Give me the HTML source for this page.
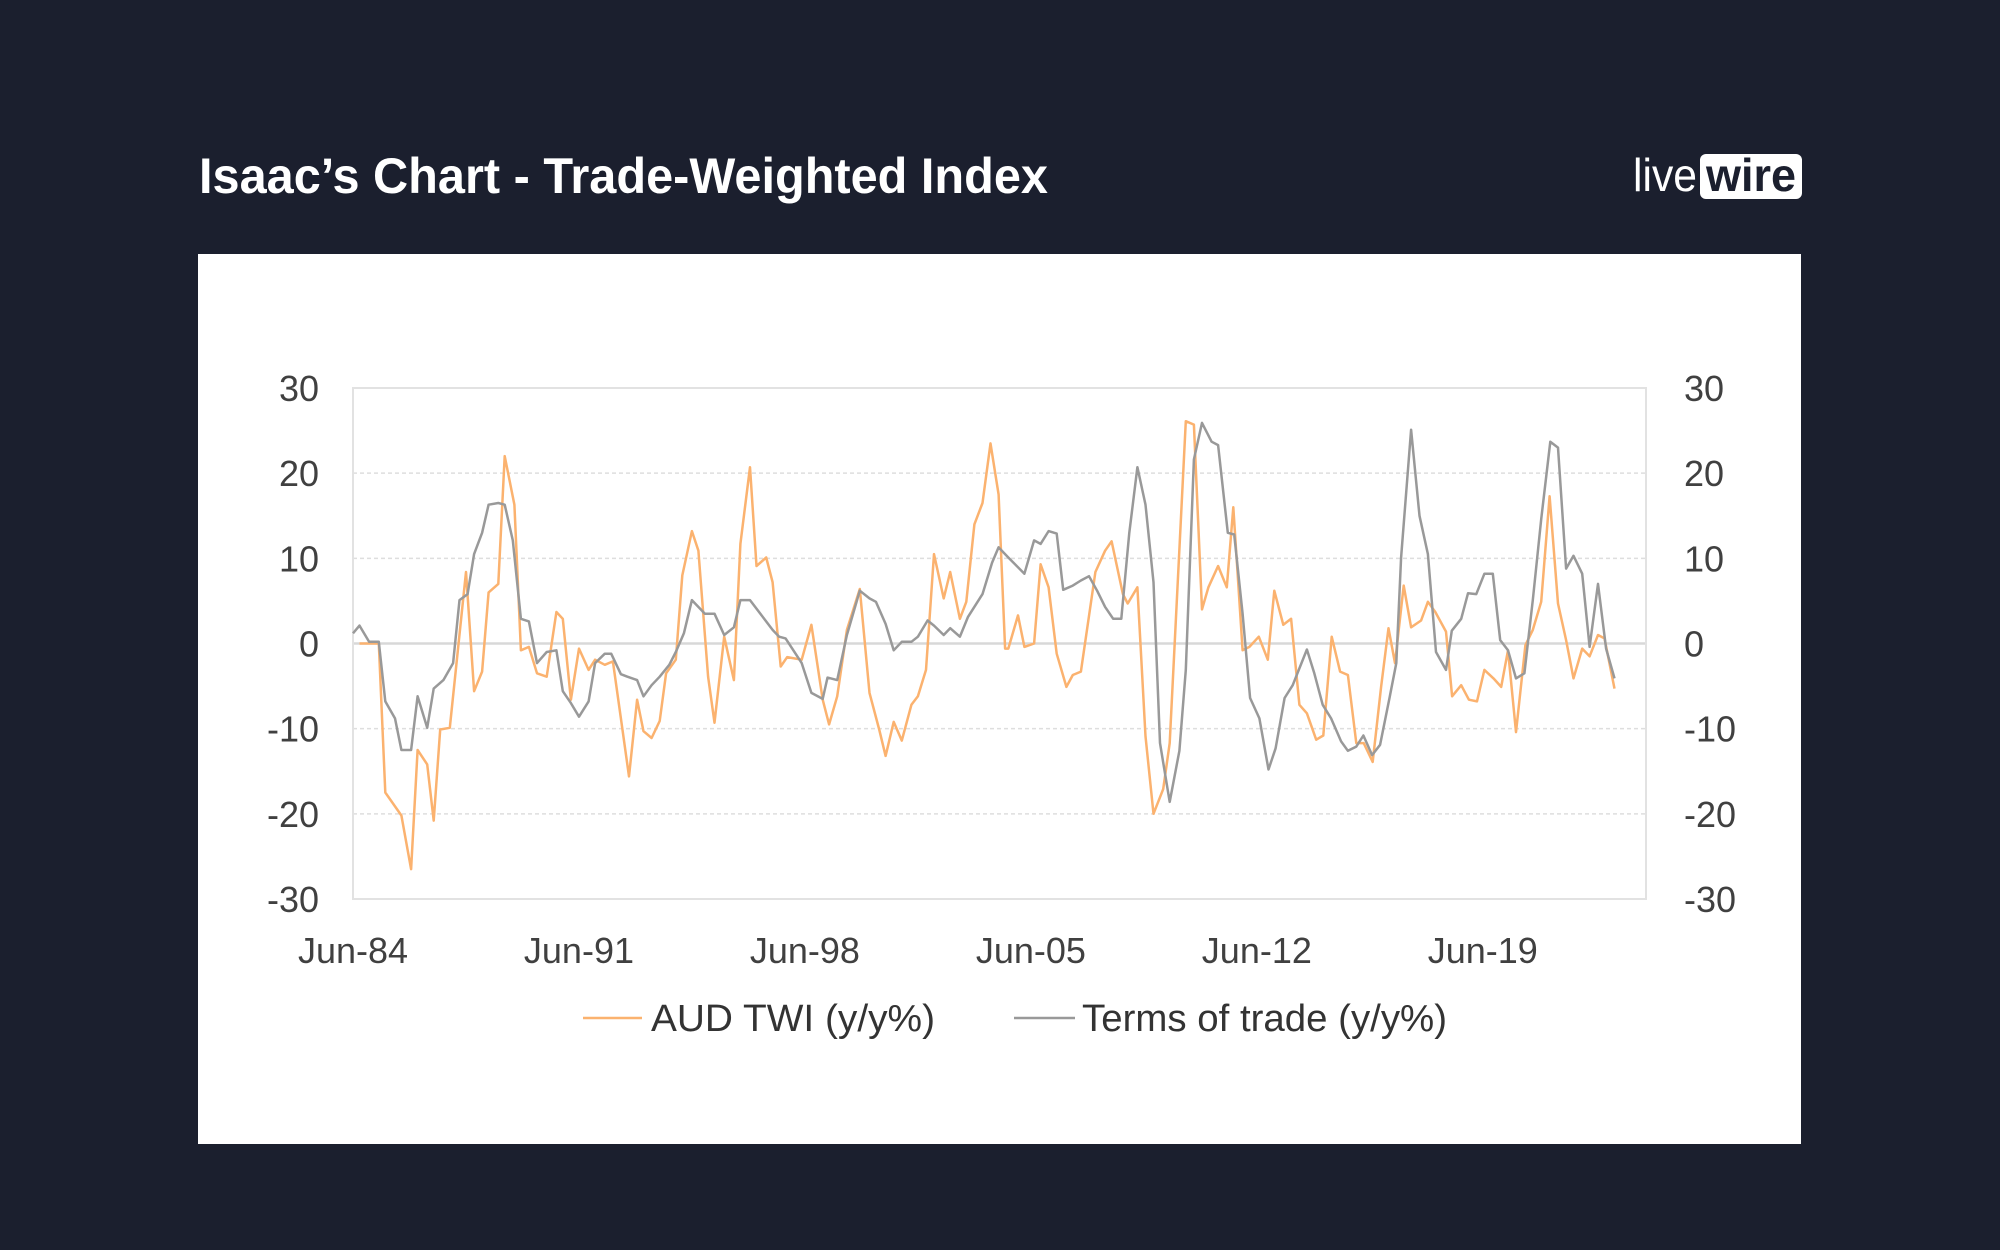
<!DOCTYPE html>
<html><head><meta charset="utf-8"><style>
html,body{margin:0;padding:0;background:#1b1f2e;}
svg{display:block;font-family:"Liberation Sans",sans-serif;}
</style></head><body>
<svg id="chart" width="2000" height="1250" viewBox="0 0 2000 1250">
<rect x="0" y="0" width="2000" height="1250" fill="#1b1f2e"/>
<text x="199" y="193" fill="#ffffff" font-size="50" font-weight="bold" textLength="849" lengthAdjust="spacingAndGlyphs">Isaac’s Chart - Trade-Weighted Index</text>
<g>
<text x="1633" y="191" fill="#ffffff" font-size="46" textLength="64" lengthAdjust="spacingAndGlyphs">live</text>
<rect x="1700" y="154" width="102" height="45" rx="6" fill="#ffffff"/>
<text x="1706" y="191" fill="#1b1f2e" font-size="46" font-weight="bold" textLength="90" lengthAdjust="spacingAndGlyphs">wire</text>
</g>
<rect x="198" y="254" width="1603" height="890" fill="#ffffff"/>
<g id="grid"></g>
<rect x="353" y="388" width="1293" height="511" fill="none" stroke="#e2e2e2" stroke-width="2"/>
<g id="axes"></g>
<g id="series"></g>
<g>
<line x1="583" y1="1018" x2="642" y2="1018" stroke="#fbb26f" stroke-width="2.5"/>
<text x="651" y="1031" font-size="38" fill="#333" textLength="284" lengthAdjust="spacingAndGlyphs">AUD TWI (y/y%)</text>
<line x1="1014" y1="1018" x2="1075" y2="1018" stroke="#999" stroke-width="2.5"/>
<text x="1082" y="1031" font-size="38" fill="#333" textLength="365" lengthAdjust="spacingAndGlyphs">Terms of trade (y/y%)</text>
</g>
</svg>
<script>
const yTicks = [30, 20, 10, 0, -10, -20, -30];
const xTickLabels = ["Jun-84", "Jun-91", "Jun-98", "Jun-05", "Jun-12", "Jun-19"];
const xTickYears = [1984.5, 1991.5, 1998.5, 2005.5, 2012.5, 2019.5];
const audYears = [1984.7,1985.3,1985.5,1986.0,1986.3,1986.5,1986.8,1987.0,1987.2,1987.5,1988.0,1988.25,1988.5,1988.7,1989.0,1989.2,1989.5,1989.7,1989.95,1990.2,1990.5,1990.8,1991.0,1991.25,1991.5,1991.8,1992.0,1992.3,1992.55,1992.8,1993.05,1993.3,1993.5,1993.75,1994.0,1994.2,1994.5,1994.7,1995.0,1995.2,1995.5,1995.7,1996.0,1996.3,1996.5,1996.8,1997.0,1997.3,1997.5,1997.75,1997.95,1998.4,1998.7,1999.05,1999.25,1999.5,1999.8,2000.2,2000.5,2000.8,2001.0,2001.25,2001.5,2001.8,2002.0,2002.25,2002.5,2002.8,2003.0,2003.3,2003.5,2003.75,2004.0,2004.25,2004.5,2004.7,2004.8,2005.1,2005.3,2005.6,2005.8,2006.05,2006.3,2006.6,2006.8,2007.05,2007.5,2007.8,2008.0,2008.35,2008.5,2008.8,2009.05,2009.3,2009.6,2009.8,2010.3,2010.55,2010.8,2011.0,2011.3,2011.57,2011.77,2012.06,2012.27,2012.56,2012.84,2013.04,2013.32,2013.56,2013.82,2014.05,2014.34,2014.56,2014.82,2015.08,2015.32,2015.58,2015.81,2016.09,2016.35,2016.58,2016.78,2017.05,2017.28,2017.59,2017.8,2018.03,2018.36,2018.55,2018.83,2019.07,2019.32,2019.55,2019.83,2020.07,2020.28,2020.53,2020.82,2021.05,2021.31,2021.57,2021.83,2022.08,2022.31,2022.58,2022.81,2023.07,2023.27,2023.58];
const audValues = [0,0,-17.5,-20.2,-26.5,-12.5,-14.2,-20.8,-10.1,-9.9,8.4,-5.6,-3.3,6.0,7.0,22.0,16.3,-0.8,-0.4,-3.5,-3.9,3.7,2.9,-6.6,-0.6,-3.1,-1.9,-2.5,-2.1,-8.8,-15.6,-6.6,-10.3,-11.1,-9.1,-3.5,-1.9,8.0,13.2,10.9,-3.9,-9.3,0.8,-4.3,11.7,20.7,9.1,10.1,7.2,-2.7,-1.6,-1.9,2.2,-6.6,-9.5,-6.2,1.6,6.4,-5.8,-10.1,-13.2,-9.2,-11.4,-7.2,-6.2,-3.1,10.5,5.3,8.4,2.9,4.9,14.0,16.5,23.5,17.5,-0.6,-0.6,3.3,-0.4,0,9.3,6.6,-1.2,-5.1,-3.7,-3.3,8.4,10.9,12.0,5.8,4.7,6.6,-10.9,-20.0,-17.1,-11.7,26.1,25.7,4.0,6.6,9.1,6.6,16.0,-0.8,-0.4,0.8,-1.9,6.2,2.2,2.9,-7.2,-8.2,-11.3,-10.8,0.8,-3.3,-3.7,-11.7,-11.7,-13.9,-5.1,1.8,-2.3,6.8,1.9,2.7,4.9,3.7,1.4,-6.2,-4.9,-6.6,-6.8,-3.1,-4.1,-5.1,-0.8,-10.4,-0.2,1.6,4.9,17.3,4.7,0.4,-4.1,-0.6,-1.5,1.0,0.6,-5.3];
const totYears = [1984.5,1984.7,1985.0,1985.3,1985.5,1985.8,1986.0,1986.3,1986.5,1986.8,1987.0,1987.3,1987.6,1987.8,1988.05,1988.25,1988.5,1988.7,1989.0,1989.2,1989.45,1989.7,1989.95,1990.2,1990.5,1990.8,1991.0,1991.25,1991.5,1991.8,1992.0,1992.3,1992.5,1992.8,1993.0,1993.3,1993.5,1993.75,1994.0,1994.3,1994.5,1994.75,1995.0,1995.4,1995.7,1996.0,1996.3,1996.5,1996.8,1997.5,1997.7,1997.9,1998.4,1998.7,1999.05,1999.2,1999.5,1999.8,2000.2,2000.5,2000.7,2001.0,2001.25,2001.5,2001.8,2002.0,2002.3,2002.5,2002.8,2003.0,2003.3,2003.55,2004.0,2004.3,2004.5,2004.8,2005.3,2005.6,2005.8,2006.05,2006.3,2006.5,2006.8,2007.05,2007.3,2007.55,2007.8,2008.05,2008.3,2008.55,2008.8,2009.05,2009.3,2009.5,2009.8,2010.1,2010.3,2010.55,2010.8,2011.1,2011.3,2011.6,2011.8,2012.06,2012.29,2012.58,2012.86,2013.08,2013.36,2013.61,2014.05,2014.28,2014.54,2014.8,2015.11,2015.32,2015.58,2015.8,2016.07,2016.32,2016.61,2016.82,2016.97,2017.28,2017.54,2017.8,2018.05,2018.36,2018.54,2018.83,2019.04,2019.3,2019.55,2019.81,2020.04,2020.28,2020.53,2020.79,2021.05,2021.31,2021.59,2021.83,2022.08,2022.31,2022.58,2022.81,2023.07,2023.32,2023.58];
const totValues = [1.2,2.1,0.2,0.2,-6.8,-8.8,-12.5,-12.5,-6.2,-9.9,-5.3,-4.3,-2.3,5.1,5.8,10.5,13.0,16.3,16.5,16.3,12.1,2.9,2.6,-2.3,-1.0,-0.8,-5.6,-7.0,-8.6,-6.8,-2.3,-1.2,-1.2,-3.6,-3.9,-4.3,-6.2,-4.9,-3.9,-2.5,-1.0,1.2,5.1,3.5,3.5,1.0,1.9,5.1,5.1,1.6,0.8,0.6,-2.3,-5.8,-6.5,-4.0,-4.3,1.0,6.2,5.3,4.9,2.3,-0.8,0.2,0.2,0.8,2.7,2.1,1.0,1.8,0.8,3.1,5.8,9.5,11.3,10.1,8.2,12.1,11.7,13.2,12.9,6.3,6.8,7.4,7.9,6.2,4.3,2.9,2.9,13.0,20.7,16.3,7.2,-11.7,-18.6,-12.6,-3.1,21.6,25.9,23.7,23.3,13.0,12.8,3.5,-6.4,-8.8,-14.8,-12.3,-6.4,-4.9,-0.7,-3.5,-7.2,-8.8,-11.5,-12.6,-12.1,-10.8,-13.1,-11.9,-6.4,-2.3,10.1,25.1,15.0,10.5,-1.0,-3.1,1.5,2.9,5.9,5.8,8.2,8.2,0.4,-0.8,-4.1,-3.5,5.1,14.6,23.7,23.0,8.8,10.3,8.2,-0.4,7.0,-0.6,-4.1];

const NS = "http://www.w3.org/2000/svg";
const plotL = 353, plotR = 1646, plotT = 388, plotB = 899;
const yMin = -30, yMax = 30;
const pxPerYear = 32.28;
function xScale(yr){ return plotL + (yr - 1984.5) * pxPerYear; }
function yScale(v){ return plotB - (v - yMin) / (yMax - yMin) * (plotB - plotT); }
function mk(tag, attrs, parent){ const e = document.createElementNS(NS, tag); for (const k in attrs) e.setAttribute(k, attrs[k]); parent.appendChild(e); return e; }

const grid = document.getElementById('grid');
const axes = document.getElementById('axes');
yTicks.forEach(function(t){
  const y = yScale(t);
  if (t !== 30 && t !== -30) {
    const gl = mk('line', {x1: plotL, x2: plotR, y1: y, y2: y, stroke: t === 0 ? '#d8d8d8' : '#dedede', 'stroke-width': t === 0 ? 2.5 : 1.5, 'stroke-dasharray': t === 0 ? 'none' : '4 3'}, grid);
    
    
  }
  const lt = mk('text', {x: 319, y: y + 13, 'text-anchor': 'end', 'font-size': 36, fill: '#404040'}, axes);
  lt.textContent = String(t);
  
  
  const rt = mk('text', {x: 1684, y: y + 13, 'text-anchor': 'start', 'font-size': 36, fill: '#404040'}, axes);
  rt.textContent = String(t);
  
  
});
xTickLabels.forEach(function(lbl, i){
  const xt = mk('text', {x: xScale(xTickYears[i]), y: 963, 'text-anchor': 'middle', 'font-size': 36, fill: '#404040'}, axes);
  xt.textContent = lbl;
  
  
});

const series = document.getElementById('series');
function drawLine(years, vals, color, name){
  const d = years.map(function(yr, i){ return (i ? 'L' : 'M') + xScale(yr).toFixed(1) + ' ' + yScale(vals[i]).toFixed(1); }).join(' ');
  const p = mk('path', {d: d, fill: 'none', stroke: color, 'stroke-width': 2.5, 'stroke-linejoin': 'round'}, series);
  
  
}
drawLine(audYears, audValues, '#fbb26f', 'aud-twi-line');
drawLine(totYears, totValues, '#999999', 'terms-of-trade-line');
</script>
</body></html>
